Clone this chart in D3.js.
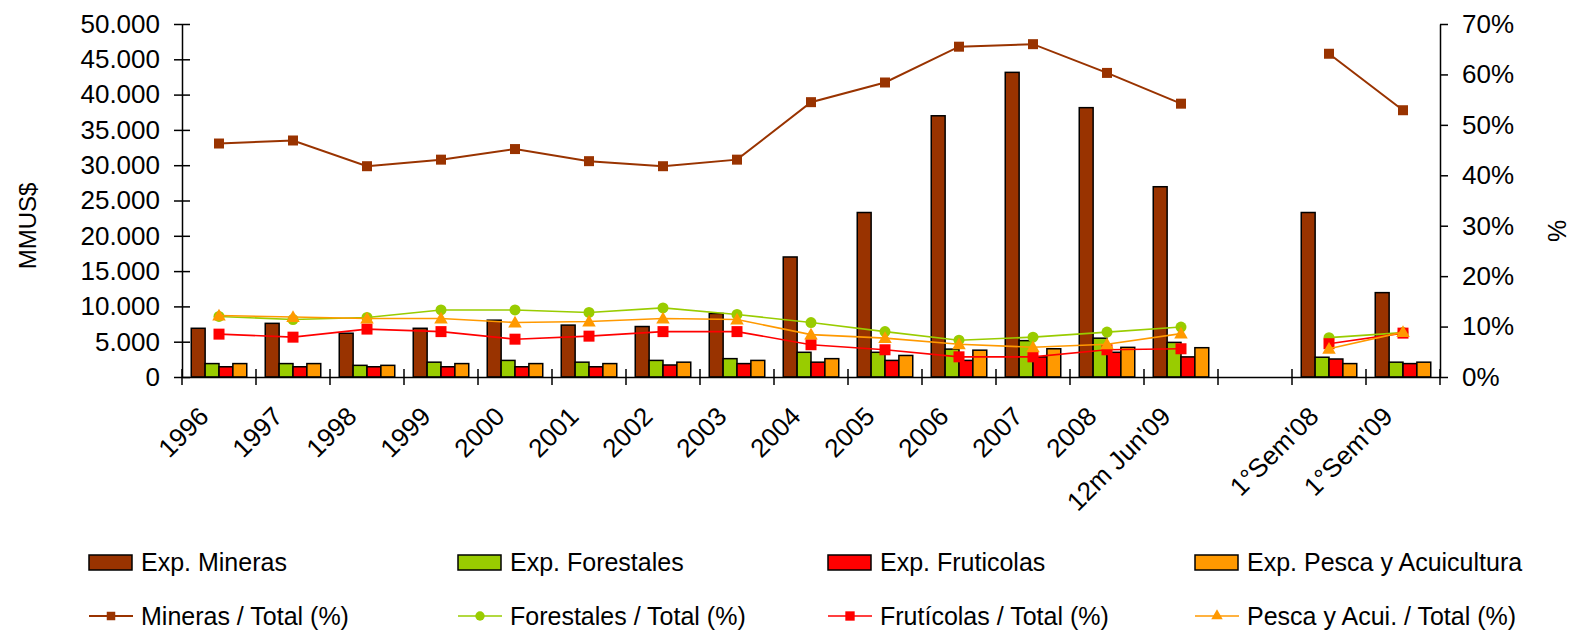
<!DOCTYPE html>
<html>
<head>
<meta charset="utf-8">
<script src="https://cdn.jsdelivr.net/npm/d3@7"></script>
<style>
  html, body { margin: 0; padding: 0; background: #fff; }
  svg { display: block; font-family: "Liberation Sans", Arial, sans-serif; }
</style>
</head>
<body>
<svg id="chart" width="1570" height="631"></svg>
<script>
// Categories (an empty slot separates the annual figures from the half-year ones)
const categories = ["1996","1997","1998","1999","2000","2001","2002","2003","2004","2005","2006","2007","2008","12m Jun'09"," ","1°Sem'08","1°Sem'09"];

// Export values, MMUS$
const expMineras    = [6900,7600,6200,6900,8050,7350,7150,9000,17000,23300,37000,43150,38150,26950,null,23300,11950];
const expForestales = [1900,1900,1650,2100,2350,2100,2350,2600,3500,3500,3950,5150,5500,4900,null,2800,2100];
const expFruticolas = [1450,1450,1450,1450,1450,1450,1700,1900,2100,2350,2350,2850,3500,2850,null,2550,1900];
const expPesca      = [1900,1900,1650,1900,1900,1900,2100,2350,2600,3050,3800,4000,4200,4150,null,1900,2100];

// Share of total exports, %
const pctMineras    = [46.3,46.9,41.8,43.1,45.2,42.8,41.8,43.1,54.5,58.4,65.5,66.0,60.3,54.2,null,64.1,52.9];
const pctForestales = [12.0,11.4,11.8,13.3,13.3,12.8,13.7,12.4,10.8,9.0,7.3,7.9,8.9,9.9,null,7.8,8.8];
const pctFruticolas = [8.5,7.9,9.5,9.0,7.5,8.1,9.0,9.0,6.4,5.4,4.0,4.0,5.4,5.6,null,6.6,8.7];
const pctPesca      = [12.2,11.9,11.6,11.6,10.8,11.0,11.6,11.4,8.4,7.7,6.5,5.9,6.5,8.6,null,5.6,8.9];

// Axis ticks
const leftTicks  = [0,5000,10000,15000,20000,25000,30000,35000,40000,45000,50000];
const rightTicks = [0,10,20,30,40,50,60,70];

const barSeries = [
  { name: "Exp. Mineras",              values: expMineras,    color: "#993300" },
  { name: "Exp. Forestales",           values: expForestales, color: "#99CC00" },
  { name: "Exp. Fruticolas",           values: expFruticolas, color: "#FF0000" },
  { name: "Exp. Pesca y Acuicultura",  values: expPesca,      color: "#FF9900" }
];
const lineSeries = [
  { name: "Mineras / Total (%)",       values: pctMineras,    color: "#993300", marker: "square", size: 10, width: 2 },
  { name: "Forestales / Total (%)",    values: pctForestales, color: "#99CC00", marker: "circle", size: 11, width: 1.6 },
  { name: "Frutícolas / Total (%)",    values: pctFruticolas, color: "#FF0000", marker: "square", size: 11, width: 1.6 },
  { name: "Pesca y Acui. / Total (%)", values: pctPesca,      color: "#FF9900", marker: "triangle", size: 12, width: 1.6 }
];

const svg = d3.select("#chart");
const plot = { left: 182, right: 1440, top: 24, bottom: 377 };

const x = d3.scaleBand().domain(categories).range([plot.left, plot.right]).paddingInner(0).paddingOuter(0);
const bw = x.bandwidth();
const x1 = d3.scaleBand().domain(barSeries.map(s => s.name)).range([bw * 0.125, bw * 0.875]);
const yL = d3.scaleLinear().domain([0, 50000]).range([plot.bottom, plot.top]);
const yR = d3.scaleLinear().domain([0, 70]).range([plot.bottom, plot.top]);

const loc = d3.formatLocale({ decimal: ",", thousands: ".", grouping: [3], currency: ["", ""] });
const fmtL = loc.format(",");

// Bars
const g = svg.append("g");
barSeries.forEach(s => {
  g.append("g").selectAll("rect")
    .data(categories.map((c, i) => ({ c, v: s.values[i] })).filter(d => d.v != null))
    .join("rect")
    .attr("x", d => x(d.c) + x1(s.name))
    .attr("y", d => yL(d.v))
    .attr("width", x1.bandwidth())
    .attr("height", d => yL(0) - yL(d.v))
    .attr("fill", s.color)
    .attr("stroke", "#000")
    .attr("stroke-width", 1.5);
});

// Axes
const axisStyle = sel => {
  sel.selectAll("path").attr("stroke", "#000").attr("stroke-width", 1.5);
  sel.selectAll("line").attr("stroke", "#000").attr("stroke-width", 1.5);
  sel.selectAll("text").attr("fill", "#000").attr("font-size", 26);
};

const axL = svg.append("g").attr("transform", `translate(${plot.left},0)`)
  .call(d3.axisLeft(yL).tickValues(leftTicks).tickFormat(fmtL).tickSizeInner(8).tickSizeOuter(0).tickPadding(14));
axL.selectAll(".tick line").attr("x2", 8).attr("x1", -8);
axL.call(axisStyle);

const axR = svg.append("g").attr("transform", `translate(${plot.right},0)`)
  .call(d3.axisRight(yR).tickValues(rightTicks).tickFormat(d => d + "%").tickSizeInner(8).tickSizeOuter(0).tickPadding(14));
axR.call(axisStyle);

const axB = svg.append("g").attr("transform", `translate(0,${plot.bottom})`)
  .call(d3.axisBottom(x).tickSize(0).tickFormat(d => d.trim()));
axB.call(axisStyle);
axB.selectAll(".tick text")
  .attr("text-anchor", "end")
  .attr("dy", 0)
  .attr("transform", "translate(-11,39) rotate(-45)");
// category separators crossing the baseline
svg.append("g").selectAll("line")
  .data(d3.range(categories.length + 1))
  .join("line")
  .attr("x1", i => plot.left + i * bw).attr("x2", i => plot.left + i * bw)
  .attr("y1", plot.bottom - 8).attr("y2", plot.bottom + 8)
  .attr("stroke", "#000").attr("stroke-width", 1.5);

// Axis titles
svg.append("text").attr("transform", "translate(36,226) rotate(-90)")
  .attr("text-anchor", "middle").attr("font-size", 24).text("MMUS$");
svg.append("text").attr("transform", "translate(1566,231) rotate(-90)")
  .attr("text-anchor", "middle").attr("font-size", 25).text("%");

// Marker shapes
const symbolFor = (m, size) => {
  const t = m === "square" ? d3.symbolSquare : m === "circle" ? d3.symbolCircle : d3.symbolTriangle;
  const area = m === "circle" ? Math.PI * (size / 2) ** 2 : m === "square" ? size * size : size * size * 0.55;
  return d3.symbol().type(t).size(area)();
};

// Share lines
const cx = c => x(c) + bw / 2;
lineSeries.forEach(s => {
  const pts = categories.map((c, i) => ({ c, v: s.values[i] }));
  const line = d3.line().defined(d => d.v != null).x(d => cx(d.c)).y(d => yR(d.v));
  svg.append("path").datum(pts).attr("d", line)
    .attr("fill", "none").attr("stroke", s.color).attr("stroke-width", s.width);
  svg.append("g").selectAll("path")
    .data(pts.filter(d => d.v != null))
    .join("path")
    .attr("d", symbolFor(s.marker, s.size))
    .attr("transform", d => `translate(${cx(d.c)},${yR(d.v) + (s.marker === "triangle" ? 1 : 0)})`)
    .attr("fill", s.color);
});

// Legend
const legX = [89, 458, 828, 1195];
const leg1 = svg.append("g");
barSeries.forEach((s, i) => {
  leg1.append("rect").attr("x", legX[i]).attr("y", 555).attr("width", 43).attr("height", 15)
    .attr("fill", s.color).attr("stroke", "#000").attr("stroke-width", 1.5);
  leg1.append("text").attr("x", legX[i] + 52).attr("y", 571).attr("font-size", 25).text(s.name);
});
lineSeries.forEach((s, i) => {
  const gg = svg.append("g");
  gg.append("line").attr("x1", legX[i]).attr("x2", legX[i] + 44).attr("y1", 616).attr("y2", 616)
    .attr("stroke", s.color).attr("stroke-width", s.width);
  gg.append("path").attr("d", symbolFor(s.marker, s.size * 0.85))
    .attr("transform", `translate(${legX[i] + 22},616)`).attr("fill", s.color);
  gg.append("text").attr("x", legX[i] + 52).attr("y", 625).attr("font-size", 25).text(s.name);
});
</script>
</body>
</html>
